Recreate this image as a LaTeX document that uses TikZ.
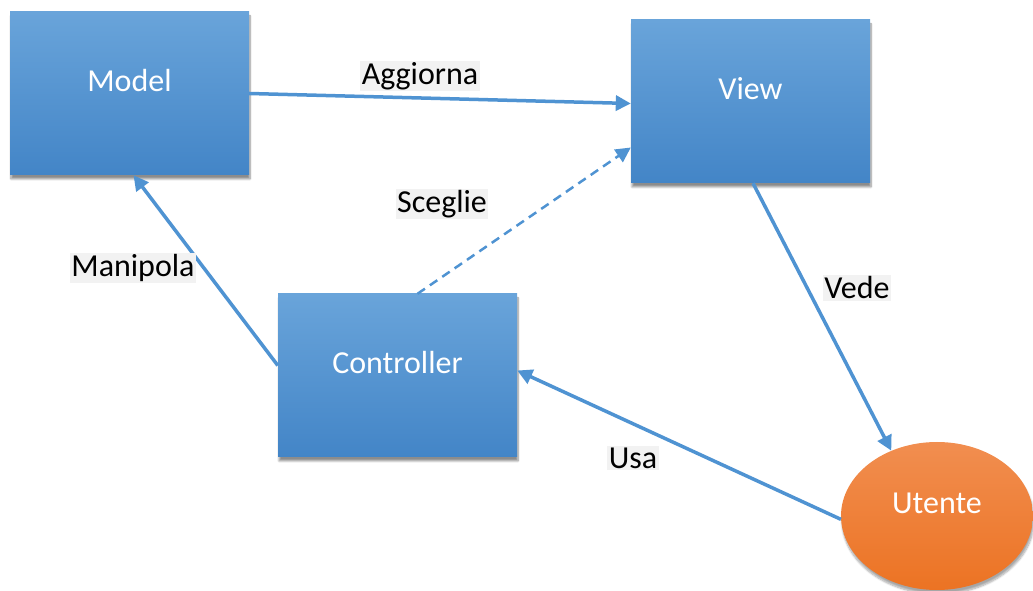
\documentclass[tikz,border=0pt]{standalone}
\usepackage{fontspec}
\setmainfont{Carlito}
\usetikzlibrary{arrows.meta,shadows.blur,shapes.geometric}
\definecolor{boxtop}{HTML}{69A4DA}
\definecolor{boxbot}{HTML}{4385C7}
\definecolor{usrtop}{HTML}{F18E50}
\definecolor{usrbot}{HTML}{EC7323}
\definecolor{wire}{HTML}{4F93D2}
\definecolor{tagbg}{HTML}{F2F2F2}
\newcommand{\uptext}[1]{\raisebox{26pt}{#1}}
\tikzset{
  part/.style={rectangle, minimum width=239pt, minimum height=163pt,
    top color=boxtop, bottom color=boxbot, draw=none, text=white,
    font=\fontsize{32}{36}\selectfont,
    blur shadow={shadow xshift=1pt, shadow yshift=-4pt, shadow blur steps=8, shadow opacity=45}},
  actor/.style={ellipse, minimum width=192pt, minimum height=148pt,
    top color=usrtop, bottom color=usrbot, draw=none, text=white,
    font=\fontsize{32}{36}\selectfont,
    blur shadow={shadow xshift=1pt, shadow yshift=-4pt, shadow blur steps=8, shadow opacity=35}},
  tag/.style={fill=tagbg, inner sep=1.5pt, text=black, font=\fontsize{32}{36}\selectfont},
  link/.style={draw=wire, line width=3.5pt, -{Triangle[length=15pt,width=15pt]}},
  hint/.style={draw=wire, line width=2.5pt, dash pattern=on 9pt off 6pt, -{Triangle[length=15pt,width=15pt]}}
}
\begin{document}
\begin{tikzpicture}[x=1pt,y=1pt]
\useasboundingbox (0,0) rectangle (1033,591);
\node[part] (model) at (129.5,497.5) {\uptext{Model}};
\node[part] (view) at (750.5,489.5) {\uptext{View}};
\node[part] (ctrl) at (397.5,215.5) {\uptext{Controller}};
\node[actor] (user) at (937,75) {\uptext{Utente}};

\draw[link] (model.east) -- ([yshift=-2pt]view.west);
\draw[link] ([yshift=10pt]ctrl.west) -- ([xshift=4pt]model.south);
\draw[hint] ([xshift=20pt]ctrl.north) -- ([yshift=-46pt]view.west);
\draw[link] ([xshift=2.5pt]view.south) -- (user.125);
\draw[link] (user.182) -- ([yshift=5pt]ctrl.east);

\node[tag] (t1) at (420,515) {Aggiorna};
\node[tag] (t2) at (133,323) {Manipola};
\node[tag] (t3) at (442,387) {Sceglie};
\node[tag] (t4) at (857,303) {Vede};
\node[tag] (t5) at (633,133) {Usa};
\end{tikzpicture}
\end{document}
